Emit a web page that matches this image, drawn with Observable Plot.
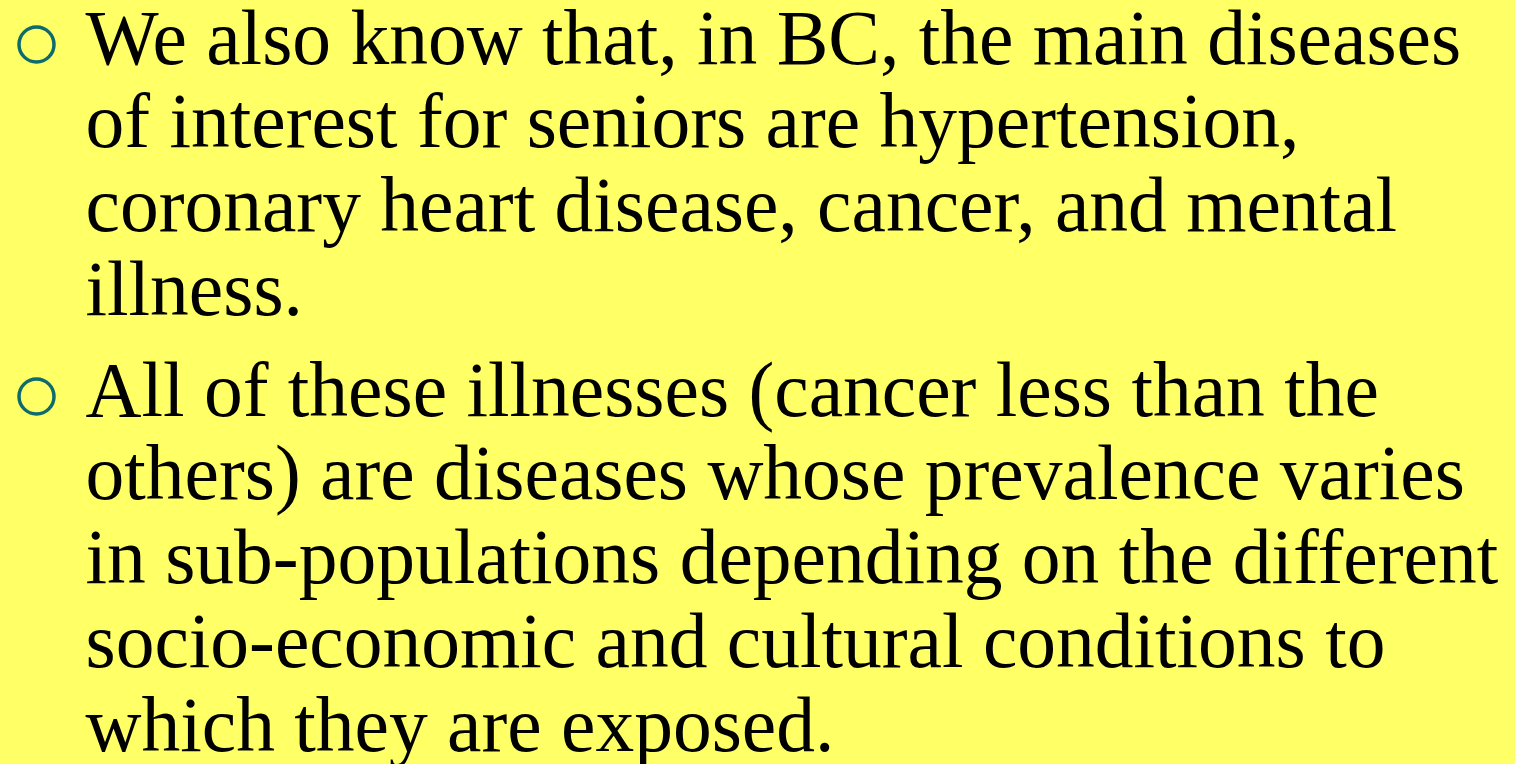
<!DOCTYPE html>
<html>
<head>
<meta charset="utf-8">
<script src="https://cdn.jsdelivr.net/npm/d3@7"></script>
<script src="https://cdn.jsdelivr.net/npm/@observablehq/plot@0.6"></script>
<style>
  html, body { margin: 0; padding: 0; background: #ffff66; overflow: hidden; }
  #chart svg { display: block; }
</style>
</head>
<body>
<div id="chart"></div>
<script>
// Slide text, one entry per rendered line
const lines = [
  "We also know that, in BC, the main diseases",
  "of interest for seniors are hypertension,",
  "coronary heart disease, cancer, and mental",
  "illness.",
  "All of these illnesses (cancer less than the",
  "others) are diseases whose prevalence varies",
  "in sub-populations depending on the different",
  "socio-economic and cultural conditions to",
  "which they are exposed."
];
// Which bullet paragraph each line belongs to
const paragraphOf = [0, 0, 0, 0, 1, 1, 1, 1, 1];
// Whether the line begins a bullet
const startsBullet = [true, false, false, false, true, false, false, false, false];

const W = 1515, H = 764;
const lineStep = 83.8, paraGap = 16.8, firstBaseline = 63;

const rows = lines.map((t, i) => ({
  text: t,
  line: i + paragraphOf[i] * (paraGap / lineStep),
  bullet: startsBullet[i]
}));

const chart = Plot.plot({
  width: W,
  height: H,
  margin: 0,
  style: { background: "#ffff66", overflow: "visible" },
  x: { domain: [0, W], range: [0, W], axis: null },
  y: { domain: [0, 1], range: [firstBaseline, firstBaseline + lineStep], axis: null },
  marks: [
    Plot.text(rows, {
      x: () => 85,
      y: "line",
      text: "text",
      textAnchor: "start",
      lineAnchor: "bottom",
      fontFamily: "'Liberation Serif', 'Times New Roman', serif",
      fontSize: 77.5,
      fill: "#000000"
    }),
    Plot.dot(rows.filter(d => d.bullet), {
      x: () => 36,
      y: "line",
      dy: -19,
      r: 17.5,
      stroke: "#0f6b6b",
      strokeWidth: 3.5,
      fill: "none"
    })
  ]
});
document.getElementById("chart").appendChild(chart);
</script>
</body>
</html>
